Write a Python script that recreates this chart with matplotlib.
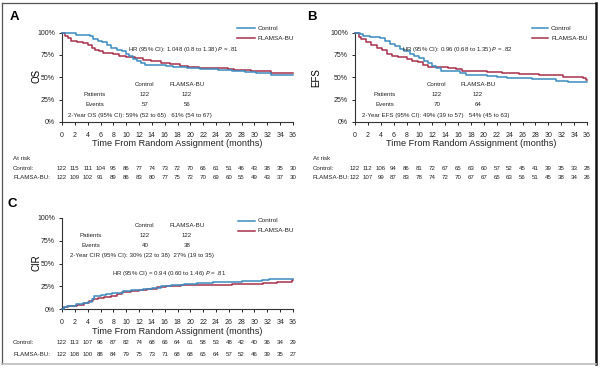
import matplotlib
matplotlib.use("Agg")
import matplotlib.pyplot as plt
from matplotlib.lines import Line2D
from matplotlib.transforms import blended_transform_factory

plt.rcParams['font.family'] = ['Liberation Sans', 'DejaVu Sans']

W, H = 600, 369
BLUE = '#3a8cbf'
RED = '#a8304c'

months = list(range(0, 37, 2))

# ---- Panel A: OS ----
os_ctrl_t = [0, 1.5, 2.2, 4.4, 4.8, 5.6, 6.2, 7.0, 7.6, 8.5, 9.3, 9.9, 10.5, 11.1, 11.7, 12.3, 12.9, 14.5, 16.2, 17.3, 19.5, 21.5, 24.3, 26.5, 28.5, 30.2, 32.6, 36]
os_ctrl_s = [100, 99, 97.5, 96.5, 93, 91, 89, 86, 83, 81, 79, 76, 73.5, 70.5, 68, 66, 64, 63.5, 62.5, 61.5, 60, 59, 58, 56.5, 56, 55, 53, 53]
os_fl_t = [0, 0.5, 0.9, 1.4, 2.3, 3.3, 4.1, 4.6, 5.1, 5.7, 6.4, 8.0, 8.9, 10.0, 11.3, 12.6, 13.8, 15.5, 16.8, 18.4, 19.6, 21.3, 25.8, 26.8, 29.5, 31.5, 32.6, 36]
os_fl_s = [100, 96.5, 94, 91, 89.5, 88, 86, 83, 80.5, 79, 77.5, 76.5, 74, 72.5, 71, 69.5, 68, 66, 64.5, 63, 61.5, 60.5, 59.5, 58, 57.5, 57, 54.5, 54.5]
os_risk_ctrl = [122, 115, 111, 104, 95, 86, 77, 74, 73, 72, 70, 66, 61, 51, 46, 43, 38, 35, 30]
os_risk_fl = [122, 109, 102, 91, 89, 86, 83, 80, 77, 75, 72, 70, 69, 60, 55, 49, 43, 37, 30]

# ---- Panel B: EFS ----
efs_ctrl_t = [0, 0.7, 1.3, 2.3, 3.9, 4.6, 5.4, 6.2, 7.0, 7.6, 8.5, 9.2, 10.0, 10.7, 11.4, 11.9, 12.6, 13.3, 14.8, 16.3, 17.3, 19.0, 20.5, 22.0, 23.6, 27.5, 30.2, 31.2, 33.0, 36]
efs_ctrl_s = [100, 98, 96, 94.5, 93.5, 90, 87.5, 85, 82, 79, 76.5, 73.5, 71, 68.5, 66, 62.5, 60, 57.5, 56.5, 55, 53, 52, 51, 50, 49, 48.5, 47.5, 46, 44.5, 44.5]
efs_fl_t = [0, 0.6, 1.0, 1.7, 2.5, 3.4, 4.2, 4.9, 5.8, 6.6, 8.1, 8.9, 9.8, 10.5, 11.4, 12.4, 14.5, 15.7, 16.6, 17.5, 20.5, 22.8, 25.5, 27.2, 28.5, 31.0, 32.2, 34.0, 35.4, 35.8, 36]
efs_fl_s = [100, 95, 92.5, 89, 86.5, 83, 80, 76.5, 74, 72.5, 70.5, 68.5, 66.5, 64, 62, 61, 60, 59, 57.5, 56.5, 56, 54.5, 54, 54, 53, 52, 50.5, 50, 49.5, 47, 47]
efs_risk_ctrl = [122, 112, 106, 94, 86, 81, 72, 67, 65, 63, 60, 57, 52, 45, 41, 39, 35, 33, 28]
efs_risk_fl = [122, 107, 99, 87, 83, 78, 74, 72, 70, 67, 67, 65, 63, 56, 51, 45, 38, 34, 26]

# ---- Panel C: CIR ----
cir_ctrl_t = [0, 0.3, 0.8, 2.2, 3.2, 4.0, 4.6, 5.0, 6.0, 6.8, 7.8, 9.5, 10.8, 12.6, 14.0, 15.5, 17.0, 19.0, 21.0, 23.5, 25.5, 28.0, 31.2, 32.3, 36]
cir_ctrl_s = [0, 2, 3.5, 5, 6.5, 8, 11, 14, 15, 16.5, 18, 19.5, 21, 22.5, 23.5, 25, 26, 27, 28.5, 29.5, 30, 30.5, 31.5, 33, 33]
cir_fl_t = [0, 0.3, 0.9, 2.3, 3.5, 4.2, 4.8, 5.6, 6.6, 7.6, 8.6, 9.4, 10.8, 12.0, 13.3, 14.8, 16.2, 18.5, 24.0, 26.5, 30.0, 31.3, 33.5, 35.3, 35.8, 36]
cir_fl_s = [0, 2, 3.5, 4.5, 6.5, 8.5, 10.5, 12, 13, 14.5, 17, 19, 20, 21, 22.5, 24, 25.5, 26, 26.5, 27.5, 28, 28.5, 29.5, 30, 31.5, 31.5]
cir_risk_ctrl = [122, 113, 107, 96, 87, 82, 74, 68, 66, 64, 61, 58, 53, 48, 42, 40, 36, 34, 29]
cir_risk_fl = [122, 108, 100, 88, 84, 79, 75, 73, 71, 68, 68, 65, 64, 57, 52, 46, 39, 35, 27]

yticks = [0, 25, 50, 75, 100]
yticklabels = ['0%', '25%', '50%', '75%', '100%']

fig = plt.figure(figsize=(W / 100, H / 100), dpi=100)


def fx(px):
    return px / W


def fy(py):
    return 1 - py / H


def ftext(px, py, s, **kw):
    fig.text(fx(px), fy(py), s, va='center', **kw)


def make_axes(left, top, right, bottom):
    ax = fig.add_axes([fx(left), fy(bottom), (right - left) / W, (bottom - top) / H])
    ax.set_xlim(0, 36)
    ax.set_ylim(0, 100)
    for s in ('top', 'right'):
        ax.spines[s].set_visible(False)
    for s in ('left', 'bottom'):
        ax.spines[s].set_linewidth(0.8)
        ax.spines[s].set_color('#333333')
    ax.set_xticks(months)
    ax.set_yticks(yticks)
    ax.set_yticklabels(yticklabels)
    ax.tick_params(axis='both', length=2.5, width=0.7, pad=2.5, labelsize=5, colors='#222222')
    ax.tick_params(axis='x', pad=4.5)
    return ax


def curves(ax, t1, s1, t2, s2):
    ax.plot(t1, s1, drawstyle='steps-post', color=BLUE, lw=1.1, clip_on=False, zorder=3)
    ax.plot(t2, s2, drawstyle='steps-post', color=RED, lw=1.1, clip_on=False, zorder=2)


def legend(x0, x1, y1, y2):
    for (yy, c, lab) in ((y1, BLUE, 'Control'), (y2, RED, 'FLAMSA-BU')):
        fig.add_artist(Line2D([fx(x0), fx(x1)], [fy(yy), fy(yy)], color=c, lw=1.1))
        ftext(x1 + 3, yy, lab, fontsize=4.6, color='#222222')


def risk_row(ax, py, vals):
    tr = blended_transform_factory(ax.transData, fig.transFigure)
    for m, v in zip(months, vals):
        ax.text(m, fy(py), str(v), transform=tr, ha='center', va='center',
                fontsize=4.4, color='#222222', clip_on=False)


def table(cx_lab, cx_c, cx_f, y0, events, yr_label, yr_start):
    ftext(cx_c, y0, 'Control', fontsize=4.4, ha='center', color='#222222')
    ftext(cx_f, y0, 'FLAMSA-BU', fontsize=4.4, ha='center', color='#222222')
    ftext(cx_lab, y0 + 10, 'Patients', fontsize=4.4, ha='center', color='#222222')
    ftext(cx_c, y0 + 10, '122', fontsize=4.4, ha='center', color='#222222')
    ftext(cx_f, y0 + 10, '122', fontsize=4.4, ha='center', color='#222222')
    ftext(cx_lab, y0 + 20, 'Events', fontsize=4.4, ha='center', color='#222222')
    ftext(cx_c, y0 + 20, str(events[0]), fontsize=4.4, ha='center', color='#222222')
    ftext(cx_f, y0 + 20, str(events[1]), fontsize=4.4, ha='center', color='#222222')
    ftext(yr_start, y0 + 30, yr_label, fontsize=4.4, ha='left', color='#222222')


xlabel = 'Time From Random Assignment (months)'

# Panel A
axA = make_axes(62, 32.5, 293, 122)
curves(axA, os_ctrl_t, os_ctrl_s, os_fl_t, os_fl_s)
ftext(14, 17.5, 'A', fontsize=9.5, fontweight='bold', ha='center')
ftext(36, 76, 'OS', fontsize=7, rotation=90, ha='center')
ftext(177.5, 143, xlabel, fontsize=6.6, ha='center', color='#222222')
legend(237, 255, 28, 38)
ftext(128, 49, r'HR (95% CI): 1.048 (0.8 to 1.38) $\it{P}$ = .81', fontsize=4.4, ha='left', color='#222222')
table(95, 145, 187, 85, (57, 56), '2-Year OS (95% CI): 59% (52 to 65)   61% (54 to 67)', 68)
ftext(13, 158, 'At risk', fontsize=4.4, ha='left', color='#222222')
ftext(13, 168, 'Control:', fontsize=4.4, ha='left', color='#222222')
ftext(13, 178, 'FLAMSA-BU:', fontsize=4.4, ha='left', color='#222222')
risk_row(axA, 168, os_risk_ctrl)
risk_row(axA, 178, os_risk_fl)

# Panel B
axB = make_axes(355, 32.5, 587, 122)
curves(axB, efs_ctrl_t, efs_ctrl_s, efs_fl_t, efs_fl_s)
ftext(312, 17.5, 'B', fontsize=9.5, fontweight='bold', ha='center')
ftext(316, 78, 'EFS', fontsize=7, rotation=90, ha='center')
ftext(471, 143, xlabel, fontsize=6.6, ha='center', color='#222222')
legend(532, 548, 28, 38)
ftext(402, 49, r'HR (95% CI): 0.96 (0.68 to 1.35) $\it{P}$ = .82', fontsize=4.4, ha='left', color='#222222')
table(385, 437, 478, 85, (70, 64), '2-Year EFS (95% CI): 49% (39 to 57)   54% (45 to 63)', 362)
ftext(313, 158, 'At risk', fontsize=4.4, ha='left', color='#222222')
ftext(313, 168, 'Control:', fontsize=4.4, ha='left', color='#222222')
ftext(313, 178, 'FLAMSA-BU:', fontsize=4.4, ha='left', color='#222222')
risk_row(axB, 168, efs_risk_ctrl)
risk_row(axB, 178, efs_risk_fl)

# Panel C
axC = make_axes(62, 218, 293, 309)
curves(axC, cir_ctrl_t, cir_ctrl_s, cir_fl_t, cir_fl_s)
ftext(12, 204, 'C', fontsize=9.5, fontweight='bold', ha='center')
ftext(36, 263, 'CIR', fontsize=7, rotation=90, ha='center')
ftext(177.5, 331, xlabel, fontsize=6.6, ha='center', color='#222222')
legend(238, 255, 221, 231)
table(91, 145, 187, 225.7, (40, 38), '2-Year CIR (95% CI): 30% (22 to 38)  27% (19 to 35)', 70)
ftext(112, 274, r'HR (95% CI) = 0.94 (0.60 to 1.46) $\it{P}$ = .81', fontsize=4.4, ha='left', color='#222222')
ftext(13, 343, 'Control:', fontsize=4.4, ha='left', color='#222222')
ftext(13, 354, 'FLAMSA-BU:', fontsize=4.4, ha='left', color='#222222')
risk_row(axC, 343, cir_risk_ctrl)
risk_row(axC, 354, cir_risk_fl)

# Frame
fig.add_artist(Line2D([fx(2), fx(2)], [fy(3), fy(364)], color='#555555', lw=0.9))
fig.add_artist(Line2D([fx(2), fx(596)], [fy(3), fy(3)], color='#555555', lw=0.9))
fig.add_artist(Line2D([fx(596), fx(596)], [fy(3), fy(364)], color='#111111', lw=1.8))
fig.add_artist(Line2D([fx(2), fx(596)], [fy(364), fy(364)], color='#bbbbbb', lw=1.2))

fig.savefig('out.png', dpi=100)
